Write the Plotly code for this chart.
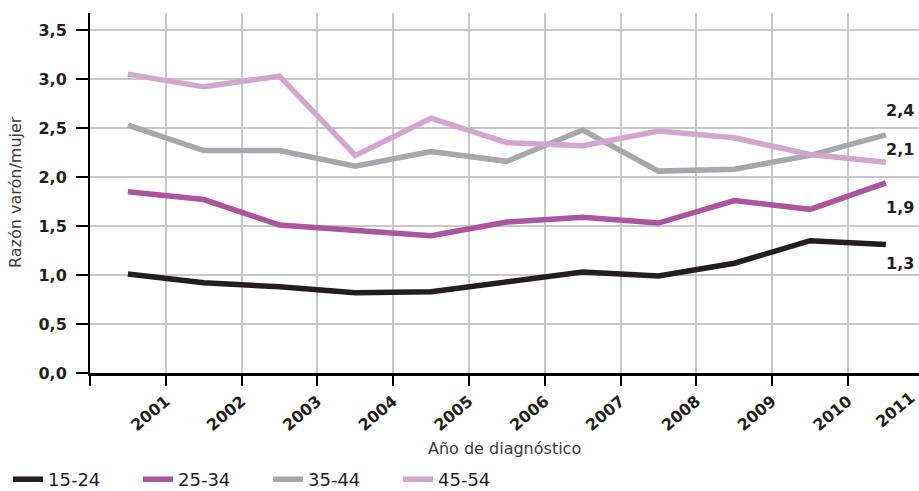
import plotly.graph_objects as go

years = [2001, 2002, 2003, 2004, 2005, 2006, 2007, 2008, 2009, 2010, 2011]
series_names = ["15-24", "25-34", "35-44", "45-54"]
v_15_24 = [1.01, 0.92, 0.88, 0.82, 0.83, 0.93, 1.03, 0.99, 1.12, 1.35, 1.31]
v_25_34 = [1.85, 1.77, 1.51, 1.46, 1.40, 1.54, 1.59, 1.53, 1.76, 1.67, 1.94]
v_35_44 = [2.53, 2.27, 2.27, 2.11, 2.26, 2.16, 2.48, 2.06, 2.08, 2.22, 2.43]
v_45_54 = [3.05, 2.92, 3.03, 2.22, 2.60, 2.35, 2.32, 2.47, 2.40, 2.23, 2.15]
end_labels = ["1,3", "1,9", "2,4", "2,1"]
end_label_y = [1.12, 1.69, 2.68, 2.28]
tick_years = [2000, 2001, 2002, 2003, 2004, 2005, 2006, 2007, 2008, 2009, 2010]
y_ticks = [0, 0.5, 1.0, 1.5, 2.0, 2.5, 3.0, 3.5]

colors = ["#231f20", "#ab54a0", "#a7a8ab", "#d2a6cd"]
all_vals = [v_15_24, v_25_34, v_35_44, v_45_54]

W, H = 919, 491
ml, mr, mt, mb = 90, 0, 13, 118
pw = W - ml - mr
ph = H - mt - mb
px_per_year = 75.8
x0 = 2000
x1 = x0 + pw / px_per_year
y_top = 3.5 + 17 / 98.0

txt = "#231f20"
FONT = "DejaVu Sans"

fig = go.Figure()
xs = [y - 0.5 for y in years]
for name, vals, c in zip(series_names, all_vals, colors):
    fig.add_trace(go.Scatter(x=xs, y=vals, mode="lines", name=name,
                             line=dict(color=c, width=5.5),
                             hoverinfo="skip"))

ann = []
for lab, yv in zip(end_labels, end_label_y):
    ann.append(dict(text=lab, xref="paper", yref="y", x=0.996, y=yv,
                    xanchor="right", yanchor="middle", showarrow=False,
                    font=dict(family=FONT, size=16, color=txt, weight="bold")))
# partially visible last tick label
ann.append(dict(text="2011", xref="paper", yref="paper",
                x=(2011 - x0) / (x1 - x0), y=0, xanchor="right", yanchor="top",
                xshift=-2, yshift=-12, textangle=-40, showarrow=False,
                font=dict(family=FONT, size=16, color=txt, weight="bold")))
ann.append(dict(text="Año de diagnóstico", xref="paper", yref="paper",
                x=0.5, y=(373 - 448) / ph, xanchor="center", yanchor="middle",
                showarrow=False, font=dict(family=FONT, size=16, color="#3a3a3a")))
ann.append(dict(text="Razón varón/mujer", xref="paper", yref="paper",
                x=(15 - ml) / pw, y=(373 - 192) / ph, xanchor="center", yanchor="middle",
                textangle=-90, showarrow=False,
                font=dict(family=FONT, size=16, color="#3a3a3a")))

fig.update_layout(
    width=W, height=H,
    margin=dict(l=ml, r=mr, t=mt, b=mb, pad=0, autoexpand=False),
    paper_bgcolor="white", plot_bgcolor="white",
    separators=",.",
    showlegend=True,
    legend=dict(orientation="h", x=(8 - ml) / pw, xanchor="left",
                y=(373 - 498) / ph, yanchor="bottom",
                font=dict(family=FONT, size=18, color=txt),
                entrywidth=85, entrywidthmode="pixels",
                bgcolor="rgba(0,0,0,0)"),
    annotations=ann,
    xaxis=dict(range=[x0, x1], tickmode="array", tickvals=tick_years,
               ticktext=["" if t == 2000 else str(t) for t in tick_years],
               tickangle=-40, ticks="outside", ticklen=10, tickwidth=1.5, tickcolor="black",
               showline=True, linecolor="black", linewidth=2.5,
               showgrid=True, gridcolor="#c8c8c8", gridwidth=1.5, zeroline=False,
               automargin=False,
               tickfont=dict(family=FONT, size=16, color=txt, weight="bold")),
    yaxis=dict(range=[0, y_top], tickmode="array", tickvals=y_ticks, tickformat=".1f",
               ticks="outside", ticklen=12, tickwidth=1.5, tickcolor="black",
               showline=True, linecolor="black", linewidth=2,
               showgrid=True, gridcolor="#c8c8c8", gridwidth=1.5, zeroline=False,
               ticklabelstandoff=6, automargin=False,
               tickfont=dict(family=FONT, size=16, color=txt, weight="bold")),
)

fig.write_html("out.html", config={"displayModeBar": False},
               post_script="document.body.style.margin='0';document.body.style.overflow='hidden';")
